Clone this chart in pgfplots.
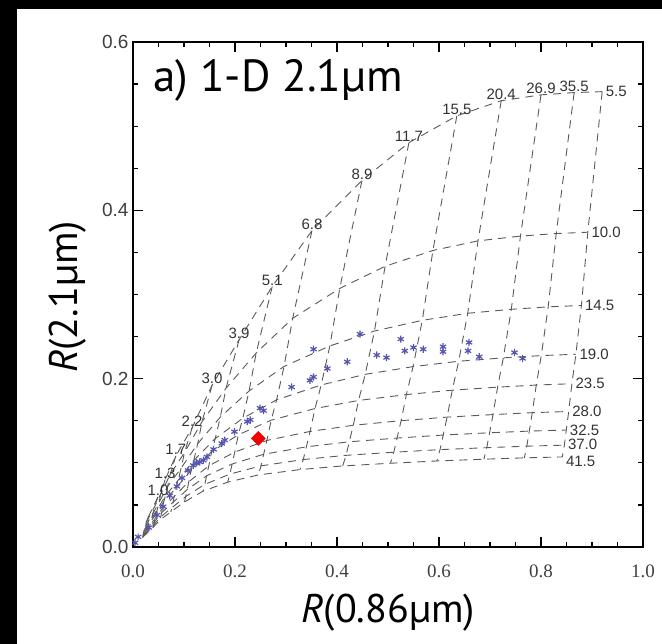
\documentclass[border=0pt]{standalone}
\usepackage{pgfplots}
\pgfplotsset{compat=1.18}
\usepackage{pgfplotstable}
\usepackage{fontspec}
\setmainfont{Liberation Sans}
\newfontfamily\seriffont{Liberation Serif}
\newfontfamily\labelfont{PT Sans}
\definecolor{lutgray}{RGB}{90,90,90}
\definecolor{starblue}{RGB}{85,85,175}
\definecolor{dmdred}{RGB}{240,0,0}
\tikzset{tk/.style={black, line width=1.2pt}}

% LUT nodes: rows = optical depth, columns = (x,y) for re = 5.5,10,14.5,19,23.5,28,32.5,37,41.5
\pgfplotstableread{
t    x1    y1     x2     y2     x3     y3     x4     y4     x5     y5     x6     y6     x7     y7     x8     y8     x9     y9
0.6  0.030 0.0357 0.0259 0.0291 0.0241 0.0245 0.0225 0.0209 0.0213 0.0187 0.0204 0.0161 0.0197 0.0142 0.0192 0.0126 0.0186 0.0112
1.0  0.049 0.0595 0.0423 0.0479 0.0393 0.0402 0.0367 0.0341 0.0348 0.0304 0.0334 0.0261 0.0322 0.0230 0.0313 0.0204 0.0304 0.0182
1.3  0.063 0.0801 0.0546 0.0634 0.0509 0.0528 0.0476 0.0446 0.0453 0.0396 0.0434 0.0339 0.0420 0.0299 0.0409 0.0264 0.0397 0.0235
1.7  0.084 0.1082 0.0728 0.0860 0.0678 0.0718 0.0635 0.0607 0.0604 0.0539 0.0579 0.0462 0.0560 0.0407 0.0545 0.0359 0.0529 0.0321
2.2  0.116 0.1417 0.1010 0.1123 0.0943 0.0936 0.0884 0.0791 0.0843 0.0702 0.0809 0.0601 0.0784 0.0530 0.0763 0.0467 0.0742 0.0417
3.0  0.155 0.1921 0.1355 0.1490 0.1268 0.1227 0.1192 0.1029 0.1138 0.0908 0.1094 0.0775 0.1062 0.0681 0.1035 0.0600 0.1008 0.0535
3.9  0.208 0.2462 0.1825 0.1887 0.1712 0.1543 0.1613 0.1288 0.1543 0.1132 0.1486 0.0964 0.1444 0.0846 0.1408 0.0744 0.1373 0.0663
5.1  0.273 0.3095 0.2416 0.2305 0.2276 0.1854 0.2153 0.1530 0.2066 0.1334 0.1996 0.1128 0.1944 0.0986 0.1900 0.0866 0.1856 0.0770
6.8  0.351 0.3760 0.3131 0.2717 0.2962 0.2145 0.2815 0.1748 0.2710 0.1507 0.2625 0.1266 0.2562 0.1102 0.2510 0.0964 0.2457 0.0856
8.9  0.449 0.4355 0.4054 0.3072 0.3860 0.2389 0.3690 0.1925 0.3569 0.1645 0.3472 0.1373 0.3399 0.1190 0.3338 0.1039 0.3278 0.0920
11.7 0.541 0.4804 0.4943 0.3335 0.4735 0.2566 0.4553 0.2051 0.4423 0.1741 0.4319 0.1446 0.4241 0.1250 0.4177 0.1089 0.4112 0.0963
15.5 0.635 0.5123 0.5881 0.3523 0.5673 0.2693 0.5491 0.2143 0.5361 0.1811 0.5257 0.1501 0.5178 0.1294 0.5114 0.1126 0.5048 0.0995
20.4 0.722 0.5302 0.6765 0.3637 0.6563 0.2777 0.6386 0.2207 0.6260 0.1863 0.6159 0.1543 0.6083 0.1330 0.6020 0.1157 0.5957 0.1022
26.9 0.800 0.5372 0.7597 0.3694 0.7418 0.2824 0.7261 0.2247 0.7149 0.1899 0.7059 0.1573 0.6992 0.1357 0.6936 0.1180 0.6880 0.1043
35.5 0.865 0.5399 0.8298 0.3724 0.8141 0.2853 0.8005 0.2274 0.7907 0.1924 0.7829 0.1596 0.7770 0.1377 0.7722 0.1198 0.7673 0.1059
46.8 0.920 0.5410 0.8918 0.3740 0.8793 0.2870 0.8684 0.2290 0.8606 0.1940 0.8543 0.1610 0.8496 0.1390 0.8458 0.1210 0.8418 0.1070
}\lutgrid

\pgfplotstableread{
x y
0.004 0.005
0.010 0.012
0.031 0.023
0.047 0.038
0.059 0.048
0.072 0.061
0.086 0.072
0.096 0.082
0.108 0.091
0.118 0.097
0.124 0.100
0.131 0.101
0.138 0.103
0.145 0.107
0.158 0.116
0.174 0.123
0.180 0.127
0.199 0.137
0.224 0.149
0.230 0.151
0.249 0.165
0.256 0.162
0.311 0.190
0.347 0.198
0.354 0.202
0.354 0.235
0.381 0.212
0.420 0.220
0.445 0.253
0.478 0.228
0.497 0.225
0.525 0.247
0.533 0.233
0.550 0.237
0.569 0.235
0.608 0.238
0.608 0.232
0.659 0.243
0.657 0.233
0.679 0.226
0.748 0.231
0.764 0.224
}\obsstars

\begin{document}
\begin{tikzpicture}
\useasboundingbox (0pt,0pt) rectangle (662pt,644pt);
\fill[white] (0pt,0pt) rectangle (662pt,644pt);
\fill[black] (0pt,0pt) rectangle (17pt,644pt);
\fill[black] (0pt,635pt) rectangle (662pt,644pt);
\begin{axis}[
  at={(133pt,97pt)}, anchor=south west,
  scale only axis, width=510pt, height=505pt,
  xmin=0, xmax=1, ymin=0, ymax=0.6,
  xtick={0,0.2,0.4,0.6,0.8,1.0},
  xticklabels={0.0,0.2,0.4,0.6,0.8,1.0},
  ytick={0,0.2,0.4,0.6},
  yticklabels={0.0,0.2,0.4,0.6},
  minor x tick num=3, minor y tick num=3,
  tick align=inside,
  major tick length=10pt, minor tick length=5pt,
  major tick style={draw=black, line width=1.2pt},
  minor tick style={draw=black, line width=1.2pt},
  axis line style={line width=1.6pt},
  xticklabel style={font=\seriffont\fontsize{19}{19}\selectfont, text=black!75, anchor=base, yshift=-31pt, inner sep=1pt},
  yticklabel style={font=\fontsize{19}{19}\selectfont, text=black!75, xshift=-1pt},
  label style={font=\labelfont\fontsize{40}{40}\selectfont, inner sep=1pt},
  xlabel={\textit{R}(0.86µm)},
  ylabel={\textit{R}(2.1µm)},
  xlabel style={at={(axis description cs:0.5,-0.149)}, anchor=base},
  ylabel style={at={(axis description cs:-0.129,0.495)}, anchor=center},
  clip=false,
  lut/.style={lutgray, line width=0.9pt, dash pattern=on 8pt off 6pt, mark=none},
]
% curves of constant effective radius
\pgfplotsinvokeforeach{1,...,9}{\addplot[lut] table[x=x#1,y=y#1]{\lutgrid};}
% curves of constant optical depth
\addplot[lut] coordinates {(0.030,0.0357) (0.0259,0.0291) (0.0241,0.0245) (0.0225,0.0209) (0.0213,0.0187) (0.0204,0.0161) (0.0197,0.0142) (0.0192,0.0126) (0.0186,0.0112)};
\addplot[lut] coordinates {(0.049,0.0595) (0.0423,0.0479) (0.0393,0.0402) (0.0367,0.0341) (0.0348,0.0304) (0.0334,0.0261) (0.0322,0.0230) (0.0313,0.0204) (0.0304,0.0182)};
\addplot[lut] coordinates {(0.063,0.0801) (0.0546,0.0634) (0.0509,0.0528) (0.0476,0.0446) (0.0453,0.0396) (0.0434,0.0339) (0.0420,0.0299) (0.0409,0.0264) (0.0397,0.0235)};
\addplot[lut] coordinates {(0.084,0.1082) (0.0728,0.0860) (0.0678,0.0718) (0.0635,0.0607) (0.0604,0.0539) (0.0579,0.0462) (0.0560,0.0407) (0.0545,0.0359) (0.0529,0.0321)};
\addplot[lut] coordinates {(0.116,0.1417) (0.1010,0.1123) (0.0943,0.0936) (0.0884,0.0791) (0.0843,0.0702) (0.0809,0.0601) (0.0784,0.0530) (0.0763,0.0467) (0.0742,0.0417)};
\addplot[lut] coordinates {(0.155,0.1921) (0.1355,0.1490) (0.1268,0.1227) (0.1192,0.1029) (0.1138,0.0908) (0.1094,0.0775) (0.1062,0.0681) (0.1035,0.0600) (0.1008,0.0535)};
\addplot[lut] coordinates {(0.208,0.2462) (0.1825,0.1887) (0.1712,0.1543) (0.1613,0.1288) (0.1543,0.1132) (0.1486,0.0964) (0.1444,0.0846) (0.1408,0.0744) (0.1373,0.0663)};
\addplot[lut] coordinates {(0.273,0.3095) (0.2416,0.2305) (0.2276,0.1854) (0.2153,0.1530) (0.2066,0.1334) (0.1996,0.1128) (0.1944,0.0986) (0.1900,0.0866) (0.1856,0.0770)};
\addplot[lut] coordinates {(0.351,0.3760) (0.3131,0.2717) (0.2962,0.2145) (0.2815,0.1748) (0.2710,0.1507) (0.2625,0.1266) (0.2562,0.1102) (0.2510,0.0964) (0.2457,0.0856)};
\addplot[lut] coordinates {(0.449,0.4355) (0.4054,0.3072) (0.3860,0.2389) (0.3690,0.1925) (0.3569,0.1645) (0.3472,0.1373) (0.3399,0.1190) (0.3338,0.1039) (0.3278,0.0920)};
\addplot[lut] coordinates {(0.541,0.4804) (0.4943,0.3335) (0.4735,0.2566) (0.4553,0.2051) (0.4423,0.1741) (0.4319,0.1446) (0.4241,0.1250) (0.4177,0.1089) (0.4112,0.0963)};
\addplot[lut] coordinates {(0.635,0.5123) (0.5881,0.3523) (0.5673,0.2693) (0.5491,0.2143) (0.5361,0.1811) (0.5257,0.1501) (0.5178,0.1294) (0.5114,0.1126) (0.5048,0.0995)};
\addplot[lut] coordinates {(0.722,0.5302) (0.6765,0.3637) (0.6563,0.2777) (0.6386,0.2207) (0.6260,0.1863) (0.6159,0.1543) (0.6083,0.1330) (0.6020,0.1157) (0.5957,0.1022)};
\addplot[lut] coordinates {(0.800,0.5372) (0.7597,0.3694) (0.7418,0.2824) (0.7261,0.2247) (0.7149,0.1899) (0.7059,0.1573) (0.6992,0.1357) (0.6936,0.1180) (0.6880,0.1043)};
\addplot[lut] coordinates {(0.865,0.5399) (0.8298,0.3724) (0.8141,0.2853) (0.8005,0.2274) (0.7907,0.1924) (0.7829,0.1596) (0.7770,0.1377) (0.7722,0.1198) (0.7673,0.1059)};
\addplot[lut] coordinates {(0.920,0.5410) (0.8918,0.3740) (0.8793,0.2870) (0.8684,0.2290) (0.8606,0.1940) (0.8543,0.1610) (0.8496,0.1390) (0.8458,0.1210) (0.8418,0.1070)};
% observations
\addplot[only marks, mark=asterisk, mark size=3.6pt, starblue, line width=1.2pt] table[x=x,y=y]{\obsstars};
\addplot[only marks, mark=square*, mark size=5pt, mark options={rotate=45, fill=dmdred, draw=dmdred}] coordinates {(0.2457,0.129)};
% optical depth labels
\addplot[draw=none, mark=none, nodes near coords, point meta=explicit symbolic,
  nodes near coords style={anchor=south, font=\fontsize{15}{15}\selectfont, inner sep=1pt, text=black!80}]
  coordinates {(0.049,0.0595)[1.0] (0.063,0.0801)[1.3] (0.084,0.1082)[1.7] (0.116,0.1417)[2.2]
  (0.155,0.1921)[3.0] (0.208,0.2462)[3.9] (0.273,0.3095)[5.1] (0.351,0.376)[6.8] (0.449,0.4355)[8.9]
  (0.541,0.4804)[11.7] (0.635,0.5123)[15.5] (0.722,0.5302)[20.4] (0.800,0.5372)[26.9] (0.865,0.5399)[35.5]};
% effective radius labels
\addplot[draw=none, mark=none, nodes near coords, point meta=explicit symbolic,
  nodes near coords style={anchor=west, font=\fontsize{15}{15}\selectfont, inner sep=0.5pt, xshift=3pt, text=black!80}]
  coordinates {(0.920,0.541)[5.5] (0.8918,0.374)[10.0] (0.8793,0.287)[14.5] (0.8684,0.229)[19.0]
  (0.8606,0.194)[23.5] (0.8543,0.161)[28.0] (0.8496,0.139)[32.5] (0.8458,0.1225)[37.0] (0.8418,0.1015)[41.5]};
% tick marks on all four sides
\pgfplotsinvokeforeach{0.2,0.4,0.6,0.8}{
  \draw[tk] (axis cs:#1,0) -- ++(0pt,10pt);
  \draw[tk] (axis cs:#1,0.6) -- ++(0pt,-10pt);}
\pgfplotsinvokeforeach{0.05,0.10,0.15,0.25,0.30,0.35,0.45,0.50,0.55,0.65,0.70,0.75,0.85,0.90,0.95}{
  \draw[tk] (axis cs:#1,0) -- ++(0pt,5pt);
  \draw[tk] (axis cs:#1,0.6) -- ++(0pt,-5pt);}
\pgfplotsinvokeforeach{0.2,0.4}{
  \draw[tk] (axis cs:0,#1) -- ++(10pt,0pt);
  \draw[tk] (axis cs:1,#1) -- ++(-10pt,0pt);}
\pgfplotsinvokeforeach{0.05,0.10,0.15,0.25,0.30,0.35,0.45,0.50,0.55}{
  \draw[tk] (axis cs:0,#1) -- ++(5pt,0pt);
  \draw[tk] (axis cs:1,#1) -- ++(-5pt,0pt);}
\node[anchor=base west, xshift=17pt, yshift=-50pt, font=\labelfont\fontsize{45}{45}\selectfont] at (rel axis cs:0,1) {a) 1-D 2.1µm};
\end{axis}
\end{tikzpicture}
\end{document}
